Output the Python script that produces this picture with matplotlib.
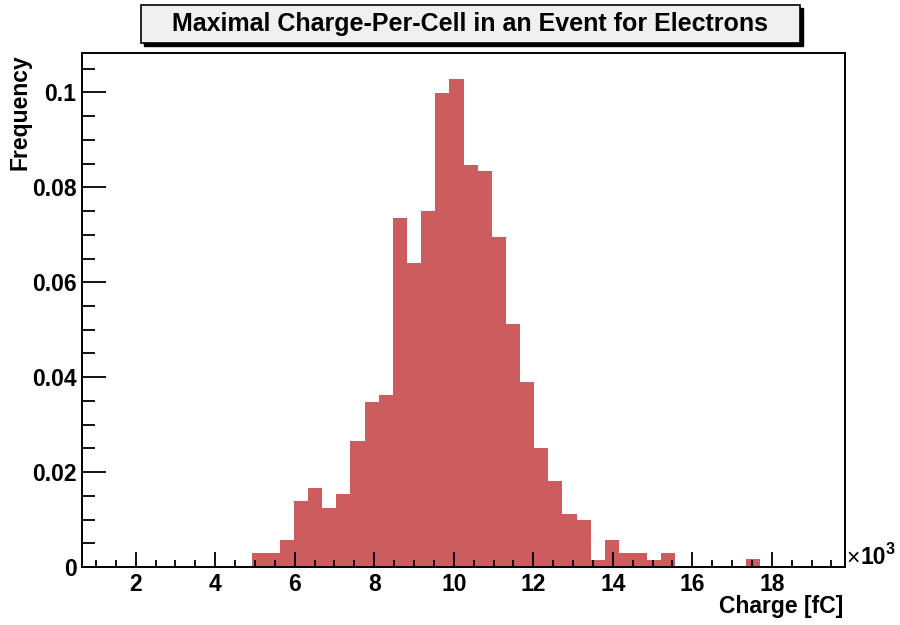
import matplotlib
matplotlib.use("Agg")
import matplotlib.pyplot as plt
from matplotlib.patches import Rectangle
from matplotlib.ticker import MultipleLocator, FuncFormatter
import numpy as np

# histogram binning (thousands of fC)
x_lo = 0.649
bin_width = 0.3554
n_bins = 54

# bin contents
freq = [0.0] * 12 + [
    0.0029, 0.0029, 0.0057, 0.0139, 0.0167, 0.0125, 0.0153, 0.0265, 0.0347, 0.0363,
    0.0736, 0.0640, 0.0750, 0.0999, 0.1028, 0.0848, 0.0834, 0.0695, 0.0513, 0.0389,
    0.0251, 0.0182, 0.0111, 0.0099, 0.0015, 0.0057, 0.0029, 0.0029, 0.0015, 0.0029,
    0.0, 0.0, 0.0, 0.0, 0.0, 0.0016,
] + [0.0] * 6

title = "Maximal Charge-Per-Cell in an Event for Electrons"
xlabel = "Charge [fC]"
ylabel = "Frequency"
y_max = 0.1083

plt.rcParams['font.family'] = ['Liberation Sans', 'DejaVu Sans']
plt.rcParams['font.weight'] = 'bold'

W, H = 900, 625
fig = plt.figure(figsize=(9, 6.25), dpi=100)
ax = fig.add_axes([82 / W, 1 - 567 / H, (845 - 82) / W, (567 - 53) / H])

edges = x_lo + bin_width * np.arange(n_bins + 1)
ax.stairs(freq, edges, fill=True, color='#cc5c5e', linewidth=0)

ax.set_xlim(edges[0], edges[-1])
ax.set_ylim(0, y_max)

ax.xaxis.set_major_locator(MultipleLocator(2))
ax.xaxis.set_minor_locator(MultipleLocator(0.5))
ax.yaxis.set_major_locator(MultipleLocator(0.02))
ax.yaxis.set_minor_locator(MultipleLocator(0.005))
ax.yaxis.set_major_formatter(FuncFormatter(lambda v, p: "0" if abs(v) < 1e-9 else ("%g" % round(v, 3))))

ax.tick_params(axis='x', which='major', direction='in', length=11, width=1.3, labelsize=16.5, pad=4)
ax.tick_params(axis='x', which='minor', direction='in', length=5, width=1.3)
ax.tick_params(axis='y', which='major', direction='in', length=17.5, width=1.3, labelsize=16.5, pad=4)
ax.tick_params(axis='y', which='minor', direction='in', length=9, width=1.3)
for lab in ax.get_xticklabels() + ax.get_yticklabels():
    lab.set_fontweight('bold')
for s in ax.spines.values():
    s.set_linewidth(1.4)

fig.text(843 / W, 1 - 607 / H, xlabel, ha='right', va='center', fontsize=16.5, fontweight='bold')
fig.text(20 / W, 1 - 54 / H, ylabel, ha='center', va='top', rotation=90, fontsize=16.5, fontweight='bold')

# exponent marker at the end of the x axis
fig.text(846 / W, 1 - 558 / H, "\u00d7", ha='left', va='center', fontsize=16.5, fontweight='normal')
fig.text(860 / W, 1 - 558 / H, "10", ha='left', va='center', fontsize=16.5, fontweight='bold')
fig.text(886 / W, 1 - 549 / H, "3", ha='left', va='center', fontsize=11.5, fontweight='bold')

# title box with shadow
bx0, bx1, by0, by1 = 141, 800, 5, 43
fig.patches.append(Rectangle(((bx0 + 3) / W, 1 - (by1 + 3) / H), (bx1 - bx0) / W, (by1 - by0) / H,
                             transform=fig.transFigure, facecolor='black', edgecolor='black'))
fig.patches.append(Rectangle((bx0 / W, 1 - by1 / H), (bx1 - bx0) / W, (by1 - by0) / H,
                             transform=fig.transFigure, facecolor='#f0f0f0', edgecolor='black', linewidth=1.2))
fig.text((bx0 + bx1) / 2 / W, 1 - (by0 + by1) / 2 / H, title, ha='center', va='center',
         fontsize=18, fontweight='bold')

fig.savefig("out.png", dpi=100)
